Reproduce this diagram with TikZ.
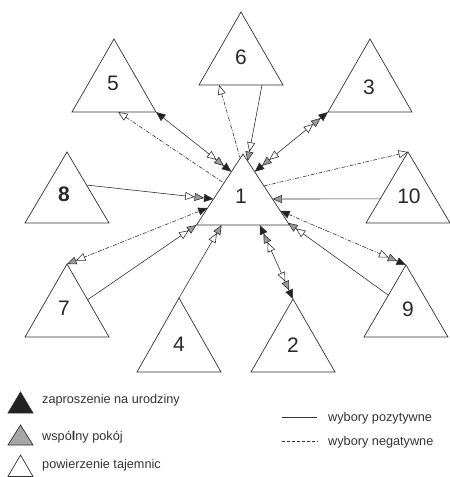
\documentclass[tikz,border=0pt]{standalone}
\usepackage{fontspec}
\setmainfont{Liberation Sans}
\usetikzlibrary{arrows.meta,calc}
\definecolor{ln}{HTML}{333333}
\definecolor{tg}{HTML}{999999}
\definecolor{tb}{HTML}{222222}
\definecolor{lg}{HTML}{A6A6A6}
\tikzset{
  TW/.tip={Triangle[length=9.5pt,width=8pt,fill=white]},
  TG/.tip={Triangle[length=9.5pt,width=8pt,fill=tg]},
  TB/.tip={Triangle[length=9.5pt,width=8pt,fill=tb]},
  triline/.style={draw=ln, line width=0.7pt, line join=miter},
  num/.style={font=\fontsize{21}{24}\selectfont, inner sep=0pt, text=ln!80!black},
  con/.style={draw=ln, line width=0.6pt},
  neg/.style={con, dash pattern=on 4pt off 1.5pt on 1pt off 1.5pt},
  legdash/.style={con, dash pattern=on 3pt off 2pt},
  leg/.style={font=\fontsize{12.7}{15}\selectfont, inner sep=0pt, text=ln, anchor=base west},
}
% name, apex x, apex y, half width, height, label x, label y, label
\newcommand\mytri[8]{%
  \coordinate (#1a) at (#2,#3);
  \coordinate (#1l) at ({#2-#4},{#3+#5});
  \coordinate (#1r) at ({#2+#4},{#3+#5});
  \draw[triline] (#1a) -- (#1l) -- (#1r) -- cycle;
  \node[num] (#1) at (#6,#7) {#8};}
\begin{document}
\begin{tikzpicture}[x=1pt,y=-1pt]
\useasboundingbox (0,0) rectangle (450,477);
% triangles
\mytri{t1}{243}{154}{46.5}{71}{241}{196}{1}
\mytri{t5}{114}{39}{42}{73}{113}{83}{5}
\mytri{t6}{241}{12}{42}{73}{241}{57}{6}
\mytri{t3}{370}{39}{42}{73}{369}{87}{3}
\mytri{t8}{67}{152}{42}{71}{64}{194.5}{\bfseries 8}
\mytri{t10}{408}{152}{42}{71}{409}{196}{10}
\mytri{t7}{67}{264}{42}{73}{64}{308}{7}
\mytri{t9}{406}{265}{42}{72}{408}{309}{9}
\mytri{t4}{179}{298}{42}{74}{179}{344}{4}
\mytri{t2}{293}{299}{42}{73}{293}{345}{2}
% connectors
\draw[con, {TB[]}-{TW[] TG[] TB[]}] (t5r) -- ($(t1a)!0.25!(t1l)$);
\draw[neg, {TW[]}-] ($(t5l)!0.55!(t5r)$) -- ($(t1a)!0.41!(t1l)$);
\draw[neg, {TW[]}-] ($(t6l)!0.24!(t6r)$) -- ($(t1a)!0.06!(t1l)$);
\draw[con, -{TW[] TG[]}] ($(t6l)!0.75!(t6r)$) -- ($(t1a)!0.1!(t1r)$);
\draw[con, {TB[] TG[] TW[]}-{TW[] TG[] TB[]}] (t3l) -- ($(t1a)!0.25!(t1r)$);
\draw[neg, -{TW[]}] ($(t1a)!0.45!(t1r)$) -- (t10a);
\draw[con, -{TG[]}] ($(t10a)!0.66!(t10l)$) -- ($(t1a)!0.634!(t1r)$);
\draw[neg, {TB[]}-{TW[] TG[] TB[]}] ($(t1a)!0.8!(t1r)$) -- (t9a);
\draw[con, -{TW[] TG[]}] ($(t9a)!0.42!(t9l)$) -- ($(t1a)!0.97!(t1r)$);
\draw[con, {TB[] TG[] TW[]}-{TW[] TG[] TB[]}] ($(t1l)!0.68!(t1r)$) -- (t2a);
\draw[con, -{TW[] TG[]}] (t4a) -- ($(t1l)!0.27!(t1r)$);
\draw[con, -{TW[] TG[]}] ($(t7a)!0.49!(t7r)$) -- (t1l);
\draw[neg, {TG[] TW[]}-{TB[]}] (t7a) -- ($(t1a)!0.76!(t1l)$);
\draw[con, -{TW[] TG[] TB[]}] ($(t8a)!0.465!(t8r)$) -- ($(t1a)!0.634!(t1l)$);
% legend
\draw[triline, fill=tb] (8,413) -- (20.5,392) -- (33,413) -- cycle;
\draw[triline, fill=lg] (8,445) -- (20.5,425) -- (33,445) -- cycle;
\draw[triline, fill=white] (8,476.5) -- (20.5,455) -- (33,476.5) -- cycle;
\node[leg] (l1) at (42,403) {zaproszenie na urodziny};
\node[leg] (l2) at (42,440) {wsp\'o{\bfseries l}ny pok\'oj};
\node[leg] (l3) at (42,468.5) {powierzenie tajemnic};
\node[leg] (l4) at (328,421.5) {wybory pozytywne};
\node[leg] (l5) at (328,445) {wybory negatywne};
\coordinate (s1) at (282,417.5);
\coordinate (s2) at (317,417.5);
\coordinate (d1) at (282,441);
\coordinate (d2) at (318,441);
\draw[con] (s1) -- (s2);
\draw[legdash] (d1) -- (d2);
\end{tikzpicture}
\end{document}
